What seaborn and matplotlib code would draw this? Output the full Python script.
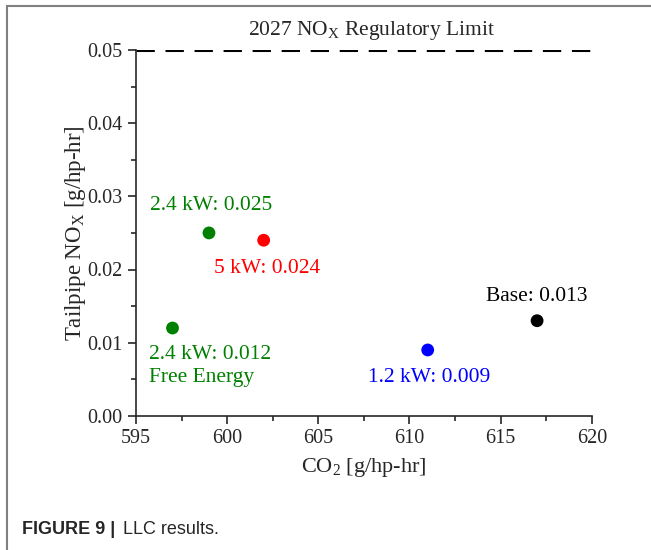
import pandas as pd
import seaborn as sns
import matplotlib.pyplot as plt
from matplotlib.patches import Rectangle
from matplotlib.ticker import MultipleLocator

# Data
cases = ["Base", "1.2 kW", "2.4 kW", "5 kW", "2.4 kW FE"]
co2 = [617, 611, 599, 602, 597]
nox = [0.013, 0.009, 0.025, 0.024, 0.012]
colors = ["black", "#0000FF", "#008000", "#FF0000", "#008000"]
labels = ["Base: 0.013", "1.2 kW: 0.009", "2.4 kW: 0.025", "5 kW: 0.024",
          "2.4 kW: 0.012\nFree Energy"]
nox_limit = 0.05

df = pd.DataFrame({"Case": cases, "CO2": co2, "NOx": nox})

sns.set_style("ticks")
plt.rcParams["font.family"] = ["Liberation Serif", "DejaVu Serif"]
plt.rcParams["mathtext.fontset"] = "custom"
plt.rcParams["mathtext.rm"] = "Liberation Serif"
plt.rcParams["mathtext.it"] = "Liberation Serif:italic"

fig = plt.figure(figsize=(6.51, 5.5), dpi=100)
ax = fig.add_axes([0.209, 0.244, 0.700, 0.665])

sns.scatterplot(data=df, x="CO2", y="NOx", hue="Case",
                palette=dict(zip(cases, colors)), s=85, edgecolor="none",
                legend=False, ax=ax)

fs = 15.5

# regulatory limit
ax.axhline(nox_limit, color="black", lw=2.2, linestyle=(0, (6, 3.5)))
ax.text(607.9, 0.0527, r"2027 NO$_\mathrm{X}$ Regulatory Limit",
        ha="center", va="center", fontsize=fs)

# point labels
ax.text(617, 0.0163, labels[0], color=colors[0], ha="center", va="center", fontsize=fs)
ax.text(611.1, 0.0053, labels[1], color=colors[1], ha="center", va="center", fontsize=fs)
ax.text(599.1, 0.0288, labels[2], color=colors[2], ha="center", va="center", fontsize=fs)
ax.text(602.2, 0.0202, labels[3], color=colors[3], ha="center", va="center", fontsize=fs)
ax.text(595.7, 0.0068, labels[4], color=colors[4], ha="left", va="center",
        fontsize=fs, linespacing=1.3)

ax.set_xlim(595, 620)
ax.set_ylim(0, 0.05)
ax.xaxis.set_major_locator(MultipleLocator(5))
ax.xaxis.set_minor_locator(MultipleLocator(2.5))
ax.yaxis.set_major_locator(MultipleLocator(0.01))
ax.yaxis.set_minor_locator(MultipleLocator(0.005))
ax.yaxis.set_major_formatter(plt.FormatStrFormatter("%.2f"))
ax.tick_params(which="major", length=6, width=1.2, labelsize=14.5)
ax.tick_params(which="minor", length=3.5, width=1.2)
for side in ["left", "bottom"]:
    ax.spines[side].set_linewidth(1.2)
sns.despine(ax=ax)

ax.set_xlabel(r"CO$_2$ [g/hp-hr]", fontsize=16, labelpad=6)
ax.set_ylabel(r"Tailpipe NO$_\mathrm{X}$ [g/hp-hr]", fontsize=16.5, labelpad=0)

# panel frame and caption
fig.add_artist(Rectangle((7 / 651, -0.1), 1.2, 1.1 - 6 / 550, transform=fig.transFigure,
                         fill=False, edgecolor="#808080", lw=1.5))
fig.text(22 / 651, 1 - 529 / 550, "FIGURE 9 |", family="Liberation Sans",
         fontweight="bold", fontsize=13, va="center")
fig.text(123 / 651, 1 - 529 / 550, "LLC results.", family="Liberation Sans",
         fontsize=13, va="center")

fig.savefig("out.png", dpi=100)
